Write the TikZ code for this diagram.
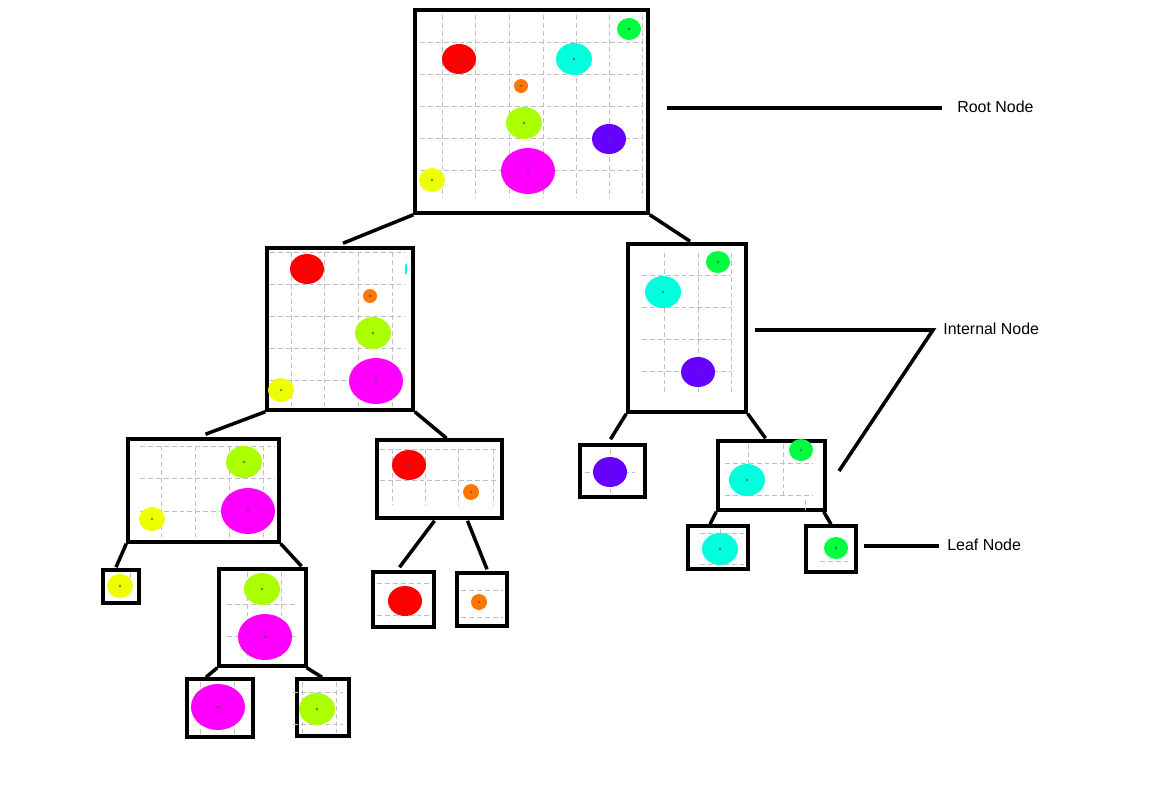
\documentclass[tikz,border=0pt]{standalone}
\usepackage{fontspec}
\setmainfont{Liberation Sans}
\usepackage{tikz}
\usetikzlibrary{calc,positioning}
\definecolor{ptred}{RGB}{255,0,0}
\definecolor{ptcyan}{RGB}{0,255,221}
\definecolor{ptgreen}{RGB}{0,255,64}
\definecolor{ptorange}{RGB}{255,119,0}
\definecolor{ptlime}{RGB}{170,255,0}
\definecolor{ptviolet}{RGB}{102,0,255}
\definecolor{ptmag}{RGB}{255,0,255}
\definecolor{ptyellow}{RGB}{238,255,0}
\tikzset{
  cell/.style={draw,line width=2pt,inner sep=0pt},
  link/.style={line width=2pt},
  gridln/.style={gray!50,line width=0.55pt,dash pattern=on 2.8pt off 1.7pt},
  tag/.style={font=\fontsize{9.07}{11}\selectfont,anchor=west,inner sep=0pt}
}
\begin{document}
\begin{tikzpicture}[x=0.02cm,y=-0.02cm]
  \useasboundingbox (0,0) rectangle (1152,791);
  % boxes of the tree
  \node[cell,minimum width=233*0.02cm,minimum height=203*0.02cm] (root) at (531.5,111.5) {};
  \node[cell,minimum width=146*0.02cm,minimum height=162*0.02cm] (l1) at (340,329) {};
  \node[cell,minimum width=118*0.02cm,minimum height=168*0.02cm] (r1) at (687,328) {};
  \node[cell,minimum width=151*0.02cm,minimum height=103*0.02cm] (ll) at (203.5,490.5) {};
  \node[cell,minimum width=125*0.02cm,minimum height=78*0.02cm] (lr) at (439.5,479) {};
  \node[cell,minimum width=65*0.02cm,minimum height=52*0.02cm] (rl) at (612.5,471) {};
  \node[cell,minimum width=107*0.02cm,minimum height=69*0.02cm] (rr) at (771.5,475.5) {};
  \node[cell,minimum width=36*0.02cm,minimum height=33*0.02cm] (lll) at (121,586.5) {};
  \node[cell,minimum width=87*0.02cm,minimum height=97*0.02cm] (llr) at (262.5,617.5) {};
  \node[cell,minimum width=66*0.02cm,minimum height=58*0.02cm] (llrl) at (220,708) {};
  \node[cell,minimum width=52*0.02cm,minimum height=57*0.02cm] (llrr) at (323,707.5) {};
  \node[cell,minimum width=61*0.02cm,minimum height=55*0.02cm] (lrl) at (403.5,599.5) {};
  \node[cell,minimum width=50*0.02cm,minimum height=53*0.02cm] (lrr) at (482,599.5) {};
  \node[cell,minimum width=60*0.02cm,minimum height=43*0.02cm] (rrl) at (718,547.5) {};
  \node[cell,minimum width=50*0.02cm,minimum height=46*0.02cm] (rrr) at (831,549) {};

  % dashed grids
  \foreach \gx in {442,475,509,543,576,609,642} \draw[gridln] (\gx,15) -- (\gx,197);
  \foreach \gy in {42,74,106,138,170} \draw[gridln] (420,\gy) -- (642,\gy);
  \foreach \gx in {291,324,358,392} \draw[gridln] (\gx,252) -- (\gx,407);
  \foreach \gy in {252,284,316,348,380} \draw[gridln] (270,\gy) -- (405,\gy);
  \foreach \gx in {664,698,731} \draw[gridln] (\gx,253) -- (\gx,395);
  \foreach \gy in {275,307,339,371} \draw[gridln] (642,\gy) -- (731,\gy);
  \foreach \gx in {161,195,229,263} \draw[gridln] (\gx,446) -- (\gx,537);
  \foreach \gy in {446,478,511} \draw[gridln] (140,\gy) -- (275,\gy);
  \foreach \gx in {392,425,458,493} \draw[gridln] (\gx,449) -- (\gx,505);
  \foreach \gy in {449,480} \draw[gridln] (380,\gy) -- (497,\gy);
  \draw[gridln] (610,449) -- (610,493); \draw[gridln] (585,472) -- (635,472);
  \foreach \gx in {748,783} \draw[gridln] (\gx,444) -- (\gx,495);
  \foreach \gy in {463,495} \draw[gridln] (725,\gy) -- (813,\gy);
  \draw[gridln] (805,500) -- (805,510);
  \draw[gridln] (130,573) -- (130,585);
  \foreach \gx in {247,281} \draw[gridln] (\gx,572) -- (\gx,660);
  \foreach \gy in {604,636} \draw[gridln] (227,\gy) -- (295,\gy);
  \foreach \gx in {200,234} \draw[gridln] (\gx,682) -- (\gx,734);
  \foreach \gy in {692,724} \draw[gridln] (293,\gy) -- (343,\gy);
  \foreach \gx in {302,336} \draw[gridln] (\gx,682) -- (\gx,733);
  \foreach \gy in {583,615} \draw[gridln] (377,\gy) -- (430,\gy);
  \foreach \gy in {590,617} \draw[gridln] (461,\gy) -- (503,\gy);
  \foreach \gy in {533,564} \draw[gridln] (700,\gy) -- (744,\gy);
  \draw[gridln] (720,529) -- (720,537);
  \draw[gridln] (820,561) -- (848,561);

  % points of every box
  \foreach \px/\py/\rx/\ry/\pc in {
      629/29/12/11/ptgreen, 459/59/17/15/ptred, 574/59/18/16/ptcyan,
      521/86/7/7/ptorange, 524/123/18/16/ptlime, 609/139/17/15/ptviolet,
      528/171/27/23/ptmag, 432/180/13/12/ptyellow,
      307/269/17/15/ptred, 370/296/7/7/ptorange, 373/333/18/16/ptlime,
      376/381/27/23/ptmag, 281/390/13/12/ptyellow,
      718/262/12/11/ptgreen, 663/292/18/16/ptcyan, 698/372/17/15/ptviolet,
      244/462/18/16/ptlime, 248/511/27/23/ptmag, 152/519/13/12/ptyellow,
      409/465/17/15/ptred, 471/492/8/8/ptorange,
      610/472/17/15/ptviolet,
      801/450/12/11/ptgreen, 747/480/18/16/ptcyan,
      120/586/13/12/ptyellow,
      262/589/18/16/ptlime, 265/637/27/23/ptmag,
      218/707/27/23/ptmag, 317/709/18/16/ptlime,
      405/601/17/15/ptred, 479/602/8/8/ptorange,
      720/549/18/16/ptcyan, 836/548/12/11/ptgreen}
  {
    \fill[\pc] (\px,\py) ellipse [x radius=\rx, y radius=\ry];
    \fill[black!70,opacity=0.7] (\px,\py) circle [radius=1.4];
  }
  \fill[ptcyan] (406,269) ellipse [x radius=1.2, y radius=6];

  % tree edges
  \draw[link] (root.south west) -- ($(l1.north)+(3,-3)$);
  \draw[link] (root.south east) -- ($(r1.north)+(3,-1)$);
  \draw[link] (l1.south west) -- ($(ll.north)+(2,-3)$);
  \draw[link] (l1.south east) -- ($(lr.north)+(7,0)$);
  \draw[link] (r1.south west) -- ($(rl.north)+(-2,-4)$);
  \draw[link] (r1.south east) -- ($(rr.north)+(-6,-1)$);
  \draw[link] (ll.south west) -- ($(lll.north)+(-5,-1)$);
  \draw[link] (ll.south east) -- ($(llr.north)+(39,-1)$);
  \draw[link] ($(lr.south)+(-5,1)$) -- ($(lrl.north)+(-4,-3)$);
  \draw[link] ($(lr.south)+(28,1)$) -- ($(lrr.north)+(5,-2)$);
  \draw[link] (rr.south west) -- ($(rrl.north)+(-8,0)$);
  \draw[link] ($(rr.south east)+(-3,0)$) -- ($(rrr.north)+(0,0)$);
  \draw[link] (llr.south west) -- ($(llrl.north)+(-14,0)$);
  \draw[link] ($(llr.south east)+(-1,0)$) -- ($(llrr.north)+(-1,0)$);

  % legend
  \node[tag] (troot) at (957,107) {Root Node};
  \node[tag] (tint) at (943,329) {Internal Node};
  \node[tag] (tleaf) at (947,545) {Leaf Node};
  \coordinate (kroot) at (667,108);
  \coordinate (kint) at (755,330);
  \coordinate (kbend) at (933,330);
  \coordinate (kint2) at (839,471);
  \coordinate (kleaf) at (864,546);
  \draw[link] (kroot) -- ($(troot.west)+(-15,1)$);
  \draw[link] (kint) -- (kbend) -- (kint2);
  \draw[link] (kleaf) -- ($(tleaf.west)+(-8,1)$);
\end{tikzpicture}
\end{document}
